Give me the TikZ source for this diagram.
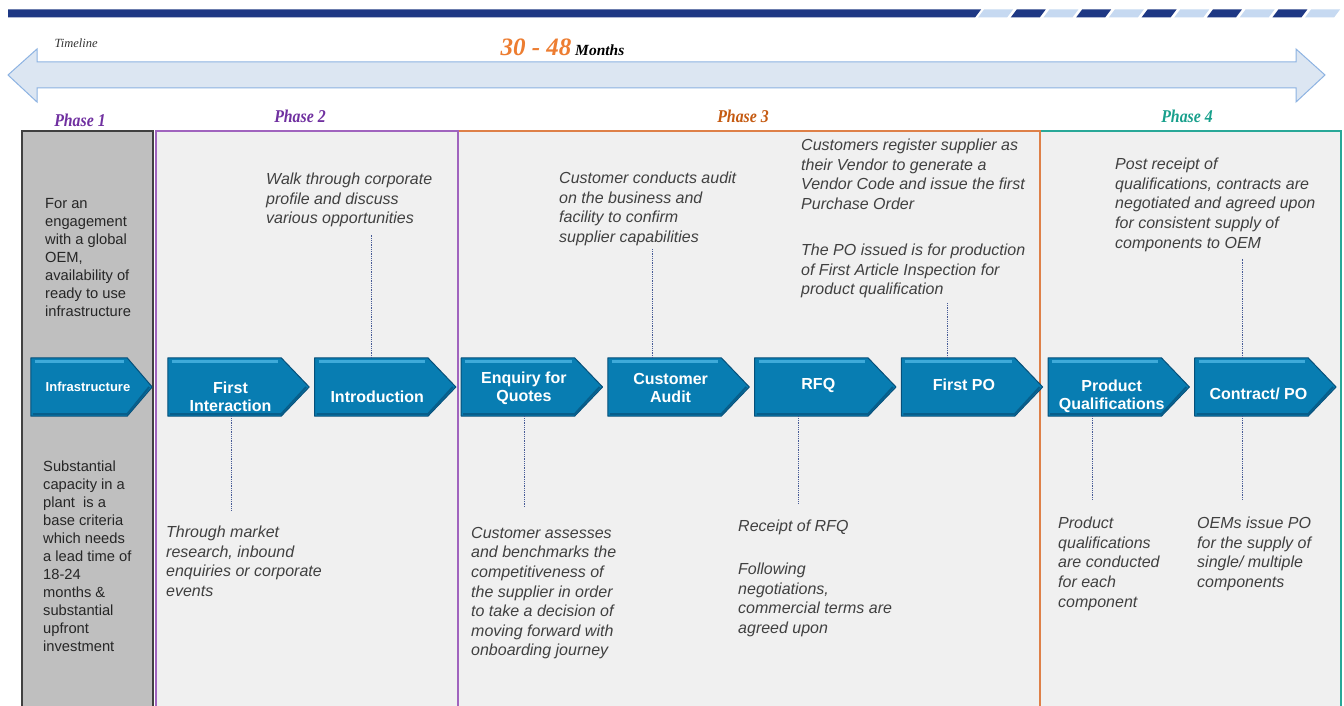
\documentclass[tikz,border=0pt]{standalone}
\usepackage{fontspec}
\setmainfont{Liberation Sans}
\newfontfamily\phaseserif[FakeStretch=0.88]{Liberation Serif}
\newfontfamily\plainserif{Liberation Serif}
\usetikzlibrary{positioning}

\definecolor{navy1}{RGB}{30,56,132}
\definecolor{dash1}{RGB}{198,217,241}
\definecolor{tlfill}{RGB}{220,230,242}
\definecolor{tledge}{RGB}{141,179,226}
\definecolor{orange1}{RGB}{237,125,49}
\definecolor{purple1}{RGB}{112,48,160}
\definecolor{rust1}{RGB}{197,90,17}
\definecolor{teal1}{RGB}{24,160,140}
\definecolor{ph1edge}{RGB}{64,64,64}
\definecolor{ph1fill}{RGB}{191,191,191}
\definecolor{ph2edge}{RGB}{160,100,190}
\definecolor{ph3edge}{RGB}{222,128,72}
\definecolor{ph4edge}{RGB}{40,168,152}
\definecolor{panel}{RGB}{240,240,240}
\definecolor{chevblue}{RGB}{8,125,178}
\definecolor{chevlight}{RGB}{62,170,218}
\definecolor{chevdark}{RGB}{6,80,122}
\definecolor{leadline}{RGB}{70,90,150}
\definecolor{notegray}{RGB}{64,64,64}

\pgfdeclarelayer{boxes}
\pgfdeclarelayer{chev}
\pgfsetlayers{boxes,chev,main}

\tikzset{
  stage/.style={minimum width=113pt, minimum height=58pt, inner sep=0pt},
  stagetxt/.style={text=white, font=\fontsize{16}{18}\selectfont\bfseries, align=center, inner sep=0pt},
  note/.style={anchor=north west, inner sep=0pt, align=left, text=notegray, font=\fontsize{16}{19.6}\selectfont\itshape},
  side/.style={anchor=north west, inner sep=0pt, align=left, text=black!85, font=\fontsize{14.7}{18}\selectfont},
  phase/.style={font=\phaseserif\fontsize{18}{20}\selectfont\bfseries\itshape},
  lead/.style={leadline, line width=0.8pt, densely dotted},
  panelbox/.style={fill=panel, line width=1.6pt},
}

\begin{document}
\begin{tikzpicture}[x=1pt, y=-1pt]
  \useasboundingbox (0,0) rectangle (1344,706);

  % header bar
  \fill[navy1] (8,9.5) -- (981,9.5) -- (975,17.5) -- (8,17.5) -- cycle;
  \foreach \i in {0,...,10}{
    \ifodd\i \def\c{navy1}\else\def\c{dash1}\fi
    \fill[\c] ({978+\i*32.7},17.5) -- ({984+\i*32.7},9.5) -- ({1013+\i*32.7},9.5) -- ({1007+\i*32.7},17.5) -- cycle;
  }

  % timeline
  \draw[fill=tlfill, draw=tledge, line width=1pt] (8,75) -- (37,49) -- (37,62) -- (1296,62) -- (1296,49) -- (1325,75)
    -- (1296,102) -- (1296,88) -- (37,88) -- (37,102) -- cycle;
  \node[anchor=west, text=black!80, font=\plainserif\itshape\fontsize{12.5}{14}\selectfont] (tl) at (51,43) {Timeline};
  \node[anchor=base west, font=\plainserif\bfseries\itshape\fontsize{15.5}{18}\selectfont] (months) at (497,56)
    {\textcolor{orange1}{\fontsize{25}{28}\selectfont 30 - 48} Months};

  % phases
  \node[phase, text=purple1] (p1) at (80,120) {Phase 1};
  \node[phase, text=purple1] (p2) at (300,116) {Phase 2};
  \node[phase, text=rust1] (p3) at (743,116) {Phase 3};
  \node[phase, text=teal1] (p4) at (1187,116) {Phase 4};

  \begin{pgfonlayer}{boxes}
    \fill[white] (0,0) rectangle (1344,706);
    \draw[panelbox, draw=ph4edge] (1040,131) rectangle (1341,720);
    \draw[panelbox, draw=ph3edge] (458,131) rectangle (1040,720);
    \draw[panelbox, draw=ph2edge] (156,131) rectangle (458,720);
    \draw[fill=ph1fill, draw=ph1edge, line width=2pt] (22,131) rectangle (153,720);
  \end{pgfonlayer}

  % stages
  \node[stage, minimum width=96pt, label={[stagetxt, font=\fontsize{13}{15}\selectfont\bfseries, xshift=9pt]center:Infrastructure}] (infra) at (79,387) {};
  \node[stage, label={[stagetxt, xshift=6pt, yshift=-10pt]center:First\\Interaction}] (first) at (224.5,387) {};
  \node[stage, right=33.3pt of first, label={[stagetxt, xshift=6pt, yshift=-10pt]center:Introduction}] (intro) {};
  \node[stage, right=33.3pt of intro, label={[stagetxt, xshift=6pt, yshift=-1pt]center:Enquiry for\\Quotes}] (enq) {};
  \node[stage, right=33.3pt of enq, label={[stagetxt, xshift=6pt, yshift=-1pt]center:Customer\\Audit}] (audit) {};
  \node[stage, right=33.3pt of audit, label={[stagetxt, xshift=7pt, yshift=1.5pt]center:RFQ}] (rfq) {};
  \node[stage, right=33.3pt of rfq, label={[stagetxt, xshift=6pt, yshift=2pt]center:First PO}] (fpo) {};
  \node[stage, right=33.3pt of fpo, label={[stagetxt, xshift=7pt, yshift=-9pt]center:Product\\Qualifications}] (prodq) {};
  \node[stage, right=33.3pt of prodq, label={[stagetxt, xshift=7pt, yshift=-7pt]center:Contract/ PO}] (contract) {};

  \begin{pgfonlayer}{chev}
    \foreach \n/\t in {infra/25, first/28, intro/28, enq/28, audit/28, rfq/28, fpo/28, prodq/28, contract/28}{
      \filldraw[fill=chevblue, draw=chevdark, line width=1pt, line join=round] (\n.north west) -- (\n.north east)
        -- ([xshift=\t]\n.east) -- (\n.south east) -- (\n.south west) -- cycle;
      \draw[chevlight, line width=2.5pt] ([xshift=4pt, yshift=-3.5pt]\n.north west) -- ([xshift=-3pt, yshift=-3.5pt]\n.north east);
      \draw[chevdark!70!chevblue, line width=2pt] ([xshift=2pt, yshift=2pt]\n.south west) -- ([yshift=2pt]\n.south east)
        -- ([xshift=\t-3]\n.east);
    }
  \end{pgfonlayer}

  % phase 1 text
  \node[side] (infratop) at (45,198) {For an\\engagement\\with a global\\OEM,\\availability of\\ready to use\\infrastructure};
  \node[side] (infrabot) at (43,461) {Substantial\\capacity in a\\plant~ is a\\base criteria\\which needs\\a lead time of\\18-24\\months \&\\substantial\\upfront\\investment};

  % notes
  \node[note] (walk) at (266,173) {Walk through corporate\\profile and discuss\\various opportunities};
  \node[note] (through) at (166,526) {Through market\\research, inbound\\enquiries or corporate\\events};
  \node[note] (auditnote) at (559,172) {Customer conducts audit\\on the business and\\facility to confirm\\supplier capabilities};
  \node[note] (vendor) at (801,139) {Customers register supplier as\\their Vendor to generate a\\Vendor Code and issue the first\\Purchase Order};
  \node[note] (fainote) at (801,244) {The PO issued is for production\\of First Article Inspection for\\product qualification};
  \node[note] (assess) at (471,527) {Customer assesses\\and benchmarks the\\competitiveness of\\the supplier in order\\to take a decision of\\moving forward with\\onboarding journey};
  \node[note] (receipt) at (738,520) {Receipt of RFQ};
  \node[note] (terms) at (738,563) {Following\\negotiations,\\commercial terms are\\agreed upon};
  \node[note] (postnote) at (1115,158) {Post receipt of\\qualifications, contracts are\\negotiated and agreed upon\\for consistent supply of\\components to OEM};
  \node[note] (qualnote) at (1058,517) {Product\\qualifications\\are conducted\\for each\\component};
  \node[note] (oems) at (1197,517) {OEMs issue PO\\for the supply of\\single/ multiple\\components};

  % leader lines
  \draw[lead, shorten >=7pt] (intro.north) -- (intro.north |- walk.south);
  \draw[lead, shorten >=3pt] ([xshift=-12pt]audit.north) -- ([xshift=-12pt]audit.north |- auditnote.south);
  \draw[lead, shorten >=4pt] ([xshift=-11pt]fpo.north) -- ([xshift=-11pt]fpo.north |- fainote.south);
  \draw[lead, shorten >=7pt] ([xshift=-9pt]contract.north) -- ([xshift=-9pt]contract.north |- postnote.south);
  \draw[lead, shorten >=15pt] ([xshift=6.5pt]first.south) -- ([xshift=6.5pt]first.south |- through.north);
  \draw[lead, shorten >=20pt] ([xshift=6pt]enq.south) -- ([xshift=6pt]enq.south |- assess.north);
  \draw[lead, shorten >=17pt] ([xshift=-13pt]rfq.south) -- ([xshift=-13pt]rfq.south |- receipt.north);
  \draw[lead, shorten >=17pt] ([xshift=-12pt]prodq.south) -- ([xshift=-12pt]prodq.south |- qualnote.north);
  \draw[lead, shorten >=17pt] ([xshift=-9pt]contract.south) -- ([xshift=-9pt]contract.south |- oems.north);
\end{tikzpicture}
\end{document}
